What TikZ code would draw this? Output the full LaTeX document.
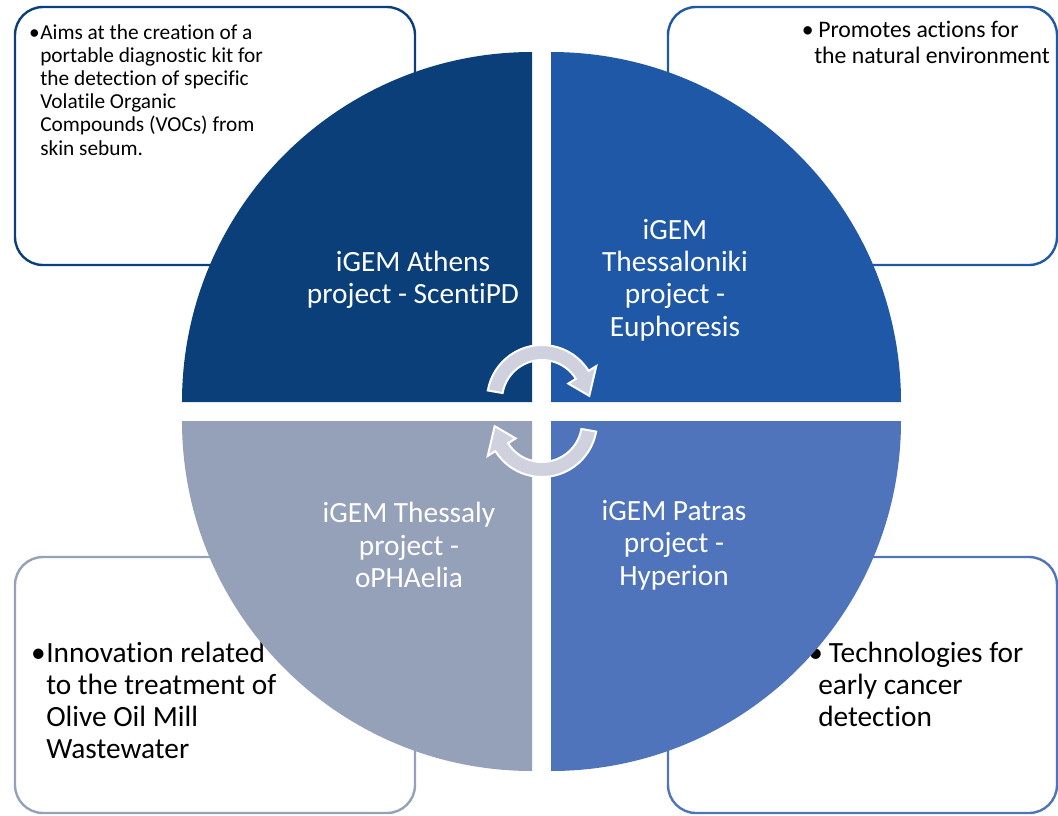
\documentclass[tikz,border=0pt]{standalone}
\usepackage{fontspec}
\setmainfont{Carlito}[Ligatures={NoCommon,NoRequired,NoContextual}]
\definecolor{athensblue}{HTML}{0A3F7A}
\definecolor{thessblue}{HTML}{1F58A6}
\definecolor{patrasblue}{HTML}{4F74BB}
\definecolor{thessalygrey}{HTML}{95A0B9}
\definecolor{arrowgrey}{HTML}{CFD2DE}

\begin{document}
\begin{tikzpicture}[x=0.75pt, y=0.75pt,
    box/.style={line width=1.8pt, rounded corners=21pt},
    quadlabel/.style={text=white, align=center, inner sep=0, font=\fontsize{22}{24.2}\selectfont},
    notetext/.style={anchor=base west, inner sep=0},
    bulletsign/.style={anchor=base east, inner sep=0},
    cycarrow/.style={fill=arrowgrey, draw=white, line width=1.5pt}]%
   \useasboundingbox (0,0) rectangle (1058,-815);
   % boxes behind the circle
   \draw[box, athensblue] (15,-7) rectangle (415,-265);
   \draw[box, thessblue] (668,-7) rectangle (1057,-265);
   \draw[box, thessalygrey] (15,-557) rectangle (415,-813);
   \draw[box, patrasblue] (668,-557) rectangle (1057,-813);
   % box texts
   \draw (40,-39) node[notetext, font=\fontsize{16}{17.4}\selectfont] (aims)
      {\begin{tabular}[t]{@{}l@{}}Aims at the creation of a\\portable diagnostic kit for\\the detection of specific\\Volatile Organic\\Compounds (VOCs) from\\skin sebum.\end{tabular}};
   \draw (aims.base west) node[bulletsign, font=\fontsize{16}{17.4}\selectfont] (aimsbullet) {\textbullet};
   \draw (814,-37) node[notetext, font=\fontsize{17.8}{19.5}\selectfont] (promotes)
      {\begin{tabular}[t]{@{}l@{}}\hspace{3pt}Promotes actions for\\the natural environment\end{tabular}};
   \draw (promotes.base west) node[bulletsign, font=\fontsize{17.8}{19.5}\selectfont] (promotesbullet) {\textbullet};
   \draw (46,-662) node[notetext, font=\fontsize{22}{24}\selectfont] (innovation)
      {\begin{tabular}[t]{@{}l@{}}Innovation related\\to the treatment of\\Olive Oil Mill\\Wastewater\end{tabular}};
   \draw (innovation.base west) node[bulletsign, font=\fontsize{22}{24}\selectfont] (innovationbullet) {\textbullet};
   \draw (818,-662) node[notetext, font=\fontsize{22}{24}\selectfont] (technologies)
      {\begin{tabular}[t]{@{}l@{}}\hspace{8pt}Technologies for\\early cancer\\detection\end{tabular}};
   \draw (technologies.base west) node[bulletsign, xshift=4pt, font=\fontsize{22}{24}\selectfont] (technologiesbullet) {\textbullet};
   % the four quarters
   \fill[athensblue] (532,-402) -- ++(180:350) arc[start angle=180, end angle=90, radius=350] -- cycle;
   \fill[thessblue] (551,-402) -- ++(90:350) arc[start angle=90, end angle=0, radius=350] -- cycle;
   \fill[patrasblue] (551,-421) -- ++(0:350) arc[start angle=0, end angle=-90, radius=350] -- cycle;
   \fill[thessalygrey] (532,-421) -- ++(-90:350) arc[start angle=-90, end angle=-180, radius=350] -- cycle;
   % cycle arrows
   \foreach \ang in {0,180}
      \filldraw[cycarrow, rotate around={\ang:(542,-411)}, shift={(542,-400)}]
         (170:55) arc[start angle=170, end angle=32, radius=55] -- (32:64) -- (5:47.5)
         -- (32:31) -- (32:40) arc[start angle=32, end angle=170, radius=40] -- cycle;
   % labels
   \draw (413,-280) node[quadlabel] (athens) {iGEM Athens\\project - ScentiPD};
   \draw (675,-280) node[quadlabel] (thessaloniki) {iGEM\\Thessaloniki\\project -\\Euphoresis};
   \draw (409,-545) node[quadlabel] (thessaly) {iGEM Thessaly\\project -\\oPHAelia};
   \draw (674,-545) node[quadlabel] (patras) {iGEM Patras\\project -\\Hyperion};
\end{tikzpicture}
\end{document}
